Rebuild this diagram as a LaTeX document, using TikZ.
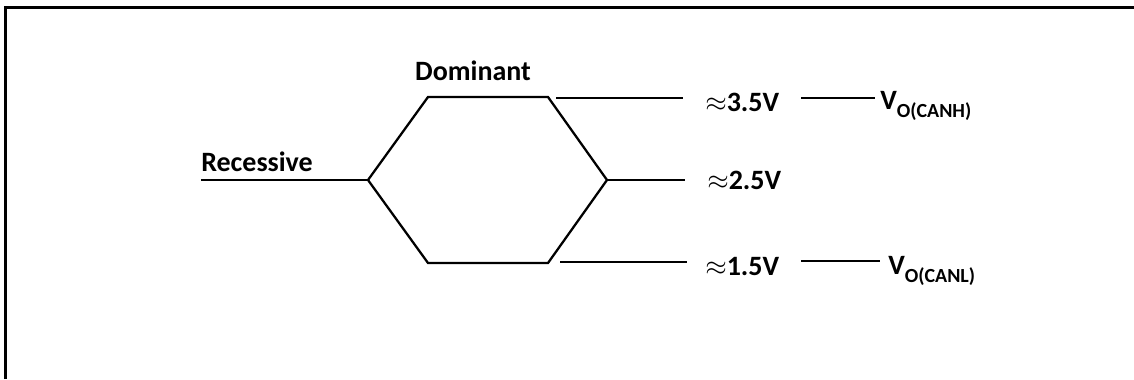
\documentclass[tikz,border=0pt]{standalone}
\usepackage{fontspec}
\setmainfont{Carlito}
\usetikzlibrary{positioning}

\newcommand{\levelsub}[1]{V\raisebox{-6pt}{\fontsize{15}{15}\selectfont #1}}

\begin{document}
\begin{tikzpicture}[
    x=0.75pt, y=-0.75pt,
    frame/.style={line width=2.25pt},
    wire/.style={line width=1.7pt},
    lbl/.style={font=\fontsize{21}{25}\selectfont\bfseries, inner sep=0pt}
]
\useasboundingbox (0,0) rectangle (1134,379);
% Frame (cut at right and bottom)
\draw[frame] (5,379) -- (5,7) -- (1134,7);
% Labels
\node[lbl, anchor=base west] (rec) at (201,171) {Recessive};
\node[lbl, anchor=base] (dom) at (473,80) {Dominant};
\node[lbl, anchor=base west] (hi) at (705,111) {$\approx$3.5V};
\node[lbl, anchor=base west] (mid) at (707,189) {$\approx$2.5V};
\node[lbl, anchor=base west] (lo) at (705,275) {$\approx$1.5V};
\node[lbl, anchor=base west] (canh) at (880,109) {\levelsub{O(CANH)}};
\node[lbl, anchor=base west] (canl) at (888,274) {\levelsub{O(CANL)}};
% Hexagon corners
\coordinate (hl) at (368,180);
\coordinate (htl) at (428,97);
\coordinate (htr) at (548,97);
\coordinate (hr) at (607,180);
\coordinate (hbr) at (548,263);
\coordinate (hbl) at (428,263);
% Line ends
\coordinate (r0) at (201,180);
\coordinate (t0) at (556,98);
\coordinate (t1) at (683,98);
\coordinate (m1) at (685,180);
\coordinate (b0) at (560,262);
\coordinate (b1) at (687,262);
\coordinate (h0) at (801,98);
\coordinate (h1) at (875,98);
\coordinate (l0) at (801,261);
\coordinate (l1) at (880,261);
% Recessive / dominant levels
\draw[wire] (r0) -- (hl);
\draw[wire, line join=miter] (hl) -- (htl) -- (htr) -- (hr) -- (hbr) -- (hbl) -- cycle;
\draw[wire] (t0) -- (t1);
\draw[wire] (hr) -- (m1);
\draw[wire] (b0) -- (b1);
% Output names
\draw[wire] (h0) -- (h1);
\draw[wire] (l0) -- (l1);
\end{tikzpicture}
\end{document}
